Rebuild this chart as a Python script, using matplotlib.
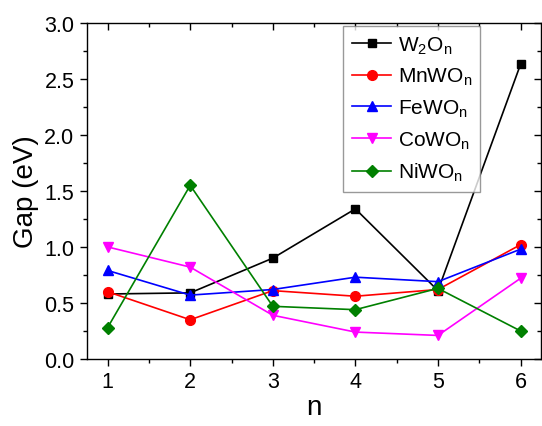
import matplotlib
matplotlib.use('Agg')
import matplotlib.pyplot as plt
from matplotlib.ticker import MultipleLocator

plt.rcParams['font.family'] = ['Liberation Sans', 'DejaVu Sans']
plt.rcParams['mathtext.fontset'] = 'custom'
plt.rcParams['mathtext.rm'] = 'Liberation Sans'
plt.rcParams['mathtext.default'] = 'regular'

# data
n = [1, 2, 3, 4, 5, 6]
w2o = [0.58, 0.59, 0.90, 1.34, 0.61, 2.63]
mnwo = [0.60, 0.35, 0.61, 0.56, 0.62, 1.02]
fewo = [0.79, 0.57, 0.62, 0.73, 0.69, 0.98]
cowo = [1.00, 0.82, 0.39, 0.24, 0.21, 0.72]
niwo = [0.28, 1.55, 0.47, 0.44, 0.63, 0.25]
labels = ['W$_2$O$_n$', 'MnWO$_n$', 'FeWO$_n$', 'CoWO$_n$', 'NiWO$_n$']

fig = plt.figure(figsize=(5.42, 4.27), dpi=100)
ax = fig.add_axes([0.1605, 0.157, 0.838, 0.787])

series = [
    (w2o, 'black', 's', 6),
    (mnwo, 'red', 'o', 7),
    (fewo, 'blue', '^', 7.5),
    (cowo, 'magenta', 'v', 7.5),
    (niwo, 'green', 'D', 6),
]
for (vals, col, mk, ms), lab in zip(series, labels):
    ax.plot(n, vals, color=col, marker=mk, markersize=ms, linewidth=1.2, label=lab)

ax.set_xlim(0.75, 6.25)
ax.set_ylim(0, 3.0)
ax.xaxis.set_major_locator(MultipleLocator(1))
ax.xaxis.set_minor_locator(MultipleLocator(0.5))
ax.yaxis.set_major_locator(MultipleLocator(0.5))
ax.yaxis.set_minor_locator(MultipleLocator(0.25))
ax.yaxis.set_major_formatter(matplotlib.ticker.FormatStrFormatter('%.1f'))

ax.tick_params(which='both', top=True, right=True, labelsize=15.5, direction='out')
ax.tick_params(which='major', length=5, width=1, pad=4)
ax.tick_params(which='minor', length=3, width=1)
# top / right mirror ticks point inward
for t in ax.xaxis.get_major_ticks() + ax.xaxis.get_minor_ticks():
    t.tick2line.set_marker(matplotlib.lines.TICKDOWN)
for t in ax.yaxis.get_major_ticks() + ax.yaxis.get_minor_ticks():
    t.tick2line.set_marker(matplotlib.lines.TICKLEFT)

for s in ax.spines.values():
    s.set_linewidth(1.0)

ax.set_xlabel('n', fontsize=20, labelpad=1)
ax.set_ylabel('Gap (eV)', fontsize=20, labelpad=4)

leg = ax.legend(loc='upper right', bbox_to_anchor=(0.866, 0.991), fontsize=15,
                frameon=True, fancybox=False, edgecolor='gray',
                handlelength=1.9, handletextpad=0.3, labelspacing=0.5,
                borderpad=0.4, borderaxespad=0)
leg.get_frame().set_linewidth(1.0)

fig.savefig('out.png', dpi=100)
